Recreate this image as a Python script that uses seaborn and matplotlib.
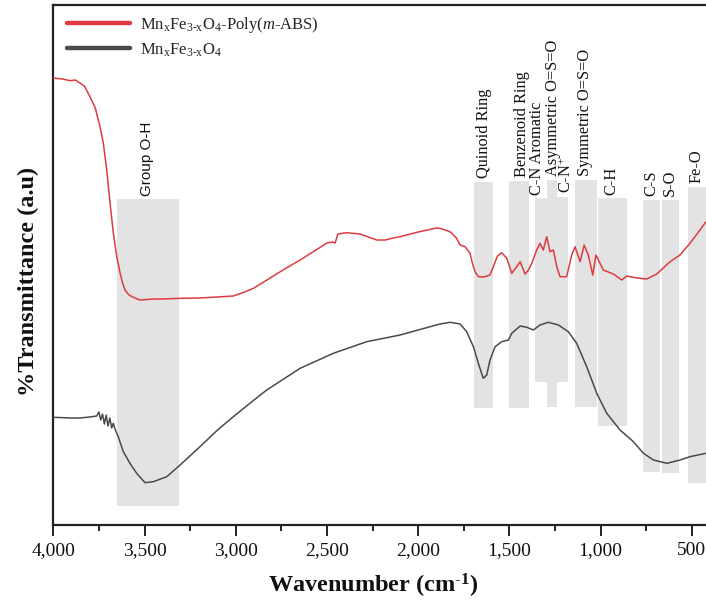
import numpy as np
import pandas as pd
import matplotlib
matplotlib.use("Agg")
import matplotlib.pyplot as plt
from matplotlib.ticker import FixedLocator
import seaborn as sns

# ---------------- data (arbitrary transmittance units) ----------------
wn_composite = [4000, 3950, 3908, 3880, 3854, 3830, 3799, 3770, 3744, 3726, 3707, 3689,
                3671, 3652, 3634, 3620, 3607, 3585, 3561, 3525, 3450, 3400, 3305, 3200,
                3100, 3014, 2950, 2900, 2829, 2750, 2647, 2560, 2500, 2470, 2455, 2440,
                2392, 2319, 2227, 2180, 2137, 2099, 2000, 1900, 1880, 1825, 1790, 1770,
                1743, 1716, 1700, 1688, 1670, 1640, 1606, 1588, 1565, 1542, 1514, 1487,
                1465, 1441, 1414, 1395, 1377, 1350, 1332, 1314, 1295, 1277, 1259, 1240,
                1222, 1186, 1158, 1140, 1112, 1090, 1067, 1043, 1025, 1003, 985, 930,
                884, 856, 800, 747, 692, 619, 564, 510, 455, 422]
t_composite = [447, 446, 444.3, 445, 442, 439, 428.3, 417, 398.3, 382, 355, 322,
               292, 268.3, 252, 242, 235, 230, 227.7, 225, 226, 226, 226.7, 227,
               228, 229, 233, 237, 245, 254, 265, 275, 282, 283, 282, 291,
               292.3, 291, 285, 285, 287, 288.3, 293, 297, 296.7, 293.3, 287, 280,
               278.3, 272, 260, 253.3, 248.3, 248, 250, 258.3, 269, 272.3, 266.7, 251.7,
               257, 263.3, 251, 255, 261.7, 275, 281.7, 275, 288.3, 273.3, 275, 258.3,
               248.3, 248.3, 270, 278.3, 263.3, 280, 270, 250, 270, 261.7, 255, 251,
               245, 249, 247, 246, 251, 263.3, 270, 281.7, 295, 303.3]

wn_ferrite = [4000, 3900, 3854, 3800, 3762, 3750, 3740, 3730, 3720, 3710, 3700, 3690,
              3680, 3671, 3660, 3644, 3616, 3580, 3543, 3497, 3452, 3378, 3305, 3196,
              3100, 3013, 2900, 2830, 2647, 2465, 2282, 2099, 2000, 1880, 1825, 1770,
              1734, 1697, 1670, 1643, 1624, 1606, 1578, 1542, 1505, 1487, 1441, 1404,
              1368, 1332, 1286, 1231, 1177, 1131, 1076, 1021, 966, 893, 820, 765,
              710, 637, 564, 510, 422]
t_ferrite = [107.7, 107, 107, 108, 109, 113, 105, 111, 101, 110, 99, 107,
             97, 101.7, 95, 88.3, 73.3, 61.7, 51.7, 42.3, 43.3, 48.3, 60, 78.3,
             95, 108.3, 125, 135, 156.7, 171.7, 183.3, 190, 195, 201, 202.7, 201,
             193.3, 178.3, 161.7, 146.7, 150, 165, 178.3, 183.3, 185, 191.7, 199, 197.7,
             195, 200, 202.7, 200, 193.3, 181.7, 158.3, 131.7, 111.7, 95, 83.3, 71.7,
             65, 61.7, 65, 68.3, 71.7]

series_names = [r'Mn$_\mathregular{x}$Fe$_\mathregular{3\text{-}x}$O$_\mathregular{4}$-Poly($m$-ABS)',
                r'Mn$_\mathregular{x}$Fe$_\mathregular{3\text{-}x}$O$_\mathregular{4}$']

band_names = ['Group O-H', 'Quinoid Ring', 'Benzenoid Ring', 'C-N Aromatic',
              'Asymmetric O=S=O', r'C-N$^{+}$', 'Symmetric O=S=O', 'C-H', 'C-S', 'S-O', 'Fe-O']
band_hi = [3649, 1692, 1500, 1359, 1292, 1240, 1140, 1012, 765, 663, 519]
band_lo = [3309, 1588, 1390, 1292, 1240, 1177, 1021, 856, 674, 571, 380]
band_top = [325.7, 343.3, 344.3, 326.7, 345, 328.3, 345, 326.7, 325, 325, 338.3]
band_bottom = [19, 116.7, 116.7, 143.3, 117.7, 143.3, 117.7, 99, 53.3, 51.7, 42.3]
label_x = [3488, 1640, 1432, 1348, 1262, 1186, 1085, 939, 719, 619, 473]

x_ticks = [4000, 3500, 3000, 2500, 2000, 1500, 1000, 500]
x_ticklabels = ['4,000', '3,500', '3,000', '2,500', '2,000', '1,500', '1,000', '500']
x_minor = [3750, 3250, 2750, 2250, 1750, 1250, 750]

# ---------------- styling ----------------
sns.set_theme(style='white')
plt.rcParams['font.family'] = ['Liberation Serif', 'DejaVu Serif']
plt.rcParams['mathtext.fontset'] = 'custom'
plt.rcParams['mathtext.rm'] = 'Liberation Serif'
plt.rcParams['mathtext.it'] = 'Liberation Serif:italic'
plt.rcParams['mathtext.bf'] = 'Liberation Serif:bold'

df = pd.concat([
    pd.DataFrame({'wn': wn_composite, 'T': t_composite, 'sample': series_names[0]}),
    pd.DataFrame({'wn': wn_ferrite, 'T': t_ferrite, 'sample': series_names[1]}),
])

fig = plt.figure(figsize=(7.06, 6.05), dpi=100)
ax = fig.add_axes([53.3 / 706, 80 / 605, 1 - 53.3 / 706, 520.5 / 605])

for lo, hi, b, t in zip(band_lo, band_hi, band_bottom, band_top):
    ax.fill_between([lo, hi], [b, b], [t, t], color='#e3e3e3', lw=0, zorder=1)

for name, xc, t in zip(band_names, label_x, band_top):
    fam = ['Liberation Sans'] if name == 'Group O-H' else ['Liberation Serif']
    fs = 11 if name == 'Group O-H' else 11.8
    ax.text(xc, t + 3.5, name, rotation=90, ha='center', va='bottom',
            fontsize=fs, family=fam, color='#111111', zorder=4, clip_on=False)

sns.lineplot(data=df, x='wn', y='T', hue='sample', hue_order=series_names,
             palette=['#dd3b40', '#4a4a4a'], sort=False, estimator=None,
             lw=1.1, ax=ax, zorder=3)

ax.set_xlim(4000, 422)
ax.set_ylim(0, 520.5)
ax.xaxis.set_major_locator(FixedLocator(x_ticks))
ax.set_xticklabels(x_ticklabels)
ax.xaxis.set_minor_locator(FixedLocator(x_minor))
ax.set_yticks([])
ax.tick_params(axis='x', which='major', direction='out', length=8, width=1.4,
               labelsize=14, pad=4, colors='#222222', bottom=True)
ax.tick_params(axis='x', which='minor', direction='out', length=4, width=1.4,
               colors='#222222', bottom=True)
for lab in ax.get_xticklabels():
    lab.set_color('#111111')

for s in ['left', 'bottom', 'top']:
    ax.spines[s].set_visible(True)
    ax.spines[s].set_linewidth(1.6)
    ax.spines[s].set_color('#222222')
ax.spines['right'].set_visible(False)

ax.set_xlabel(r'Wavenumber (cm$^{\mathbf{\text{-}1}}$)', fontsize=17.5, fontweight='bold', color='#111111')
ax.xaxis.set_label_coords(0.49, -0.09)
ax.set_ylabel('%Transmittance (a.u)', fontsize=17.5, fontweight='bold', color='#111111')
ax.yaxis.set_label_coords(-0.022, 0.467)

handles, labels = ax.get_legend_handles_labels()
leg = ax.legend(handles, labels, loc='upper left', bbox_to_anchor=(60 / 706, 1 - 8 / 605),
                bbox_transform=fig.transFigure, frameon=False, fontsize=12,
                handlelength=3.8, handletextpad=0.6, labelspacing=0.4, borderaxespad=0,
                borderpad=0.4)
for line in leg.get_lines():
    line.set_linewidth(3.2)

fig.savefig('out.png', dpi=100)
